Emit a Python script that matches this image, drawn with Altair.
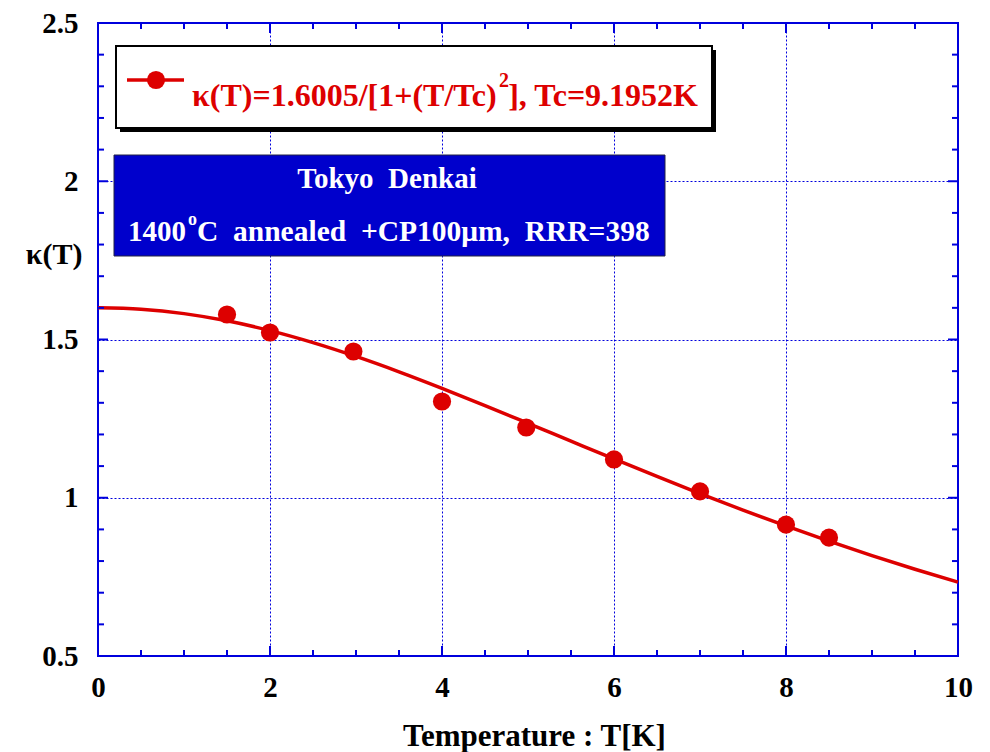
import altair as alt
import pandas as pd

# ---- data ----
T_pts = [1.5, 2.0, 2.97, 4.0, 4.98, 6.0, 7.0, 8.0, 8.5]
k_pts = [1.579, 1.522, 1.462, 1.304, 1.222, 1.121, 1.020, 0.915, 0.874]

T_fit = [0.0, 0.5, 1.0, 1.5, 2.0, 2.5, 3.0, 3.5, 4.0, 4.5, 5.0,
         5.5, 6.0, 6.5, 7.0, 7.5, 8.0, 8.5, 9.0, 9.5, 10.0]
k_fit = [1.6005, 1.5958, 1.5818, 1.5590, 1.5282, 1.4903, 1.4465, 1.3980,
         1.3458, 1.2913, 1.2353, 1.1788, 1.1225, 1.0672, 1.0133, 0.9611,
         0.9110, 0.8630, 0.8174, 0.7742, 0.7333]

x_major = [0, 2, 4, 6, 8, 10]
y_major = [0.5, 1.0, 1.5, 2.0, 2.5]
x_minor = [0.5, 1.0, 1.5, 2.5, 3.0, 3.5, 4.5, 5.0, 5.5, 6.5, 7.0, 7.5,
           8.5, 9.0, 9.5]
y_minor = [0.6, 0.7, 0.8, 0.9, 1.1, 1.2, 1.3, 1.4, 1.6, 1.7, 1.8, 1.9,
           2.1, 2.2, 2.3, 2.4]
x_inner_major = [2, 4, 6, 8]
y_inner_major = [1.0, 1.5, 2.0]

legend_a = "κ(T)=1.6005/[1+(T/Tc)"
legend_sup = "2"
legend_b = "], Tc=9.1952K"
box_line1 = "Tokyo \u00a0Denkai"
box_line2a = "1400"
box_line2sup = "o"
box_line2b = "C \u00a0annealed \u00a0+CP100μm, \u00a0RRR=398"
x_title = "Temperature : T[K]"
y_title = "κ(T)"

# ---- styling ----
W, H = 860, 633
RED = "#dd0000"
BLUE = "#0000dd"
BOXBLUE = "#0000cc"
FONT = "Liberation Serif"

fit_df = pd.DataFrame({"T": T_fit, "k": k_fit})
pts_df = pd.DataFrame({"T": T_pts, "k": k_pts})
one = pd.DataFrame({"a": [0]})

xs = alt.Scale(domain=[0, 10], nice=False, zero=False)
ys = alt.Scale(domain=[0.5, 2.5], nice=False, zero=False)

x_axis = alt.Axis(values=x_major, format="d", grid=True, gridColor=BLUE,
                  gridDash=[2, 2], gridWidth=1, gridOpacity=1, domain=False,
                  ticks=False, labelFont=FONT, labelFontSize=29,
                  labelFontWeight="bold", labelColor="black", labelPadding=17,
                  labelFlush=False, labelOverlap=False, labelBound=False,
                  title=x_title, titleFont=FONT, titleFontSize=31,
                  titleFontWeight="bold", titleColor="black", titleX=436,
                  titleY=89, titleBaseline="alphabetic", titleAlign="center")
y_axis = alt.Axis(values=y_major, format="~g", grid=True, gridColor=BLUE,
                  gridDash=[2, 2], gridWidth=1, gridOpacity=1, domain=False,
                  ticks=False, labelFont=FONT, labelFontSize=29,
                  labelFontWeight="bold", labelColor="black", labelPadding=20,
                  labelFlush=False, labelOverlap=False, labelBound=False,
                  title=y_title, titleFont=FONT, titleFontSize=30,
                  titleFontWeight="bold", titleColor="black", titleAngle=0,
                  titleAlign="right", titleBaseline="alphabetic", titleX=-16,
                  titleY=240)

X = lambda: alt.X("T:Q", scale=xs, axis=x_axis)
Y = lambda: alt.Y("k:Q", scale=ys, axis=y_axis)

fit = alt.Chart(fit_df).mark_line(color=RED, strokeWidth=3.5,
                                  interpolate="monotone").encode(x=X(), y=Y())

pts = alt.Chart(pts_df).mark_circle(color=RED, size=330, opacity=1).encode(
    x=X(), y=Y())


def xticks(vals, length, top):
    df = pd.DataFrame({"T": vals})
    if top:
        yv, y2v = 0, length
    else:
        yv, y2v = H, H - length
    return alt.Chart(df).mark_rule(color=BLUE, strokeWidth=2).encode(
        x=X(), y=alt.value(yv), y2=alt.value(y2v))


def yticks(vals, length, right):
    df = pd.DataFrame({"k": vals})
    if right:
        xv, x2v = W, W - length
    else:
        xv, x2v = 0, length
    return alt.Chart(df).mark_rule(color=BLUE, strokeWidth=2).encode(
        y=Y(), x=alt.value(xv), x2=alt.value(x2v))


ticks = [
    xticks(x_minor, 6, False), xticks(x_minor, 6, True),
    xticks(x_inner_major, 10, False), xticks(x_inner_major, 10, True),
    yticks(y_minor, 6, False), yticks(y_minor, 6, True),
    yticks(y_inner_major, 10, False), yticks(y_inner_major, 10, True),
]


def rect(x1, x2, y1, y2, **kw):
    return alt.Chart(one).mark_rect(**kw).encode(
        x=alt.value(x1), x2=alt.value(x2), y=alt.value(y1), y2=alt.value(y2))


def text(t, x, y, size, color, align="left"):
    return alt.Chart(one).mark_text(
        text=t, font=FONT, fontSize=size, fontWeight="bold", color=color,
        align=align, baseline="alphabetic").encode(
        x=alt.value(x), y=alt.value(y))


# legend box (plot-relative pixels)
legend_shadow = rect(22, 618, 27, 109, color="black")
legend_box = rect(18, 614, 23, 105, fill="white", stroke="black",
                  strokeWidth=2)
legend_line = alt.Chart(one).mark_rule(color=RED, strokeWidth=3.5).encode(
    x=alt.value(29), x2=alt.value(86), y=alt.value(57))
legend_dot = alt.Chart(one).mark_circle(color=RED, size=330, opacity=1).encode(
    x=alt.value(58), y=alt.value(57))
legend_t1 = text(legend_a, 94, 83, 32, RED)
legend_t2 = text(legend_sup, 401, 64, 20, RED)
legend_t3 = text(legend_b, 600, 83, 32, RED, align="right")

# blue info box
blue_box = rect(16, 567, 132, 233, fill=BOXBLUE, stroke="#222244",
                strokeWidth=1)
blue_t1 = text(box_line1, 289, 165, 29, "white", align="center")
blue_t2 = text(box_line2a, 88, 218, 29, "white", align="right")
blue_t3 = text(box_line2sup, 90, 202, 18, "white")
blue_t4 = text(box_line2b, 99, 218, 29.5, "white")

chart = alt.layer(
    fit, *ticks,
    legend_shadow, legend_box, legend_line, legend_dot,
    legend_t1, legend_t2, legend_t3,
    blue_box, blue_t1, blue_t2, blue_t3, blue_t4,
    pts,
).properties(
    width=W, height=H,
    autosize=alt.AutoSizeParams(type="none"),
    padding={"left": 98, "top": 23, "right": 32, "bottom": 96},
    background="white",
).configure_view(
    stroke=BLUE, strokeWidth=2
)

chart.save("out.html", embed_options={"renderer": "svg", "actions": False})
